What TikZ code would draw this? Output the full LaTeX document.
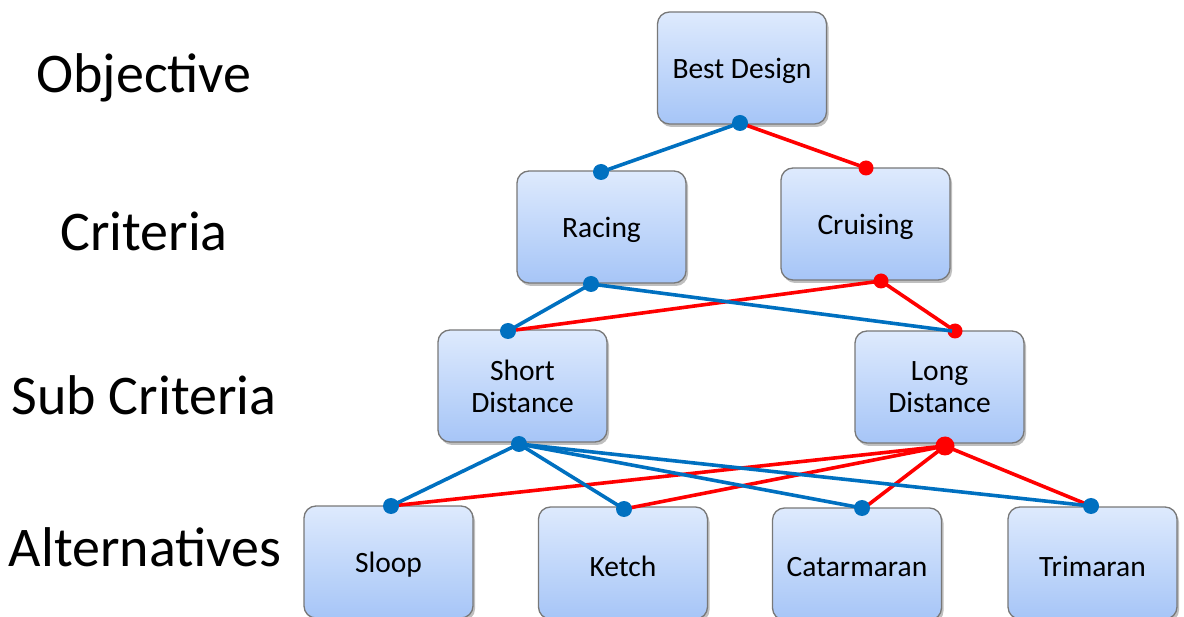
\documentclass[tikz,border=0pt]{standalone}
\usepackage{fontspec}
\setmainfont{Carlito}
\usetikzlibrary{shadows}
\definecolor{boxtop}{RGB}{222,234,253}
\definecolor{boxbot}{RGB}{166,197,247}
\definecolor{boxline}{RGB}{120,120,120}
\definecolor{lnblue}{RGB}{0,112,192}
\definecolor{lnred}{RGB}{255,0,0}
\newcommand{\lowtxt}[1]{\raisebox{-3pt}[\height][\depth]{#1}}
\tikzset{
  box/.style={draw=boxline, line width=1.3pt, rounded corners=12pt,
    top color=boxtop, bottom color=boxbot,
    minimum width=169pt, minimum height=112pt, align=center,
    font=\fontsize{29.5}{32}\selectfont,
    drop shadow={shadow xshift=2pt, shadow yshift=-3pt, opacity=0.25, fill=black}},
  level/.style={font=\fontsize{56}{60}\selectfont, anchor=base},
  bdot/.style={circle, fill=lnblue, inner sep=0pt, minimum size=16pt},
  rdot/.style={circle, fill=lnred, inner sep=0pt, minimum size=15pt},
  bline/.style={draw=lnblue, line width=3.6pt},
  rline/.style={draw=lnred, line width=3.6pt},
}
\begin{document}
\begin{tikzpicture}[x=1pt, y=-1pt]
\useasboundingbox (0,0) rectangle (1184,617);
\begin{scope}
\clip (0,0) rectangle (1184,617);
% level labels
\node[level] (lobj) at (144,93) {Objective};
\node[level] (lcri) at (144,251) {Criteria};
\node[level] (lsub) at (144,415) {Sub Criteria};
\node[level] (lalt) at (145,566) {Alternatives};
% boxes
\node[box] (bd) at (742,68) {\lowtxt{Best Design}};
\node[box] (rac) at (601.5,227) {\lowtxt{Racing}};
\node[box] (cru) at (865.5,224) {\lowtxt{Cruising}};
\node[box] (sd) at (522.5,386) {Short\\Distance};
\node[box] (ld) at (939.5,387) {Long\\Distance};
\node[box] (sl) at (388.5,562) {\lowtxt{Sloop}};
\node[box] (ke) at (623,563) {\lowtxt{Ketch}};
\node[box] (ca) at (857,564) {\lowtxt{Catarmaran}};
\node[box] (tr) at (1092.5,563) {\lowtxt{Trimaran}};
% dot positions
\coordinate (bdB) at (740,123);
\coordinate (racT) at (601,172);
\coordinate (racB) at (591,284);
\coordinate (cruT) at (866,168);
\coordinate (cruB) at (881,281);
\coordinate (sdT) at (508,331);
\coordinate (sdB) at (519,444);
\coordinate (ldT) at (955,331);
\coordinate (ldB) at (945,446);
\coordinate (slT) at (391,506);
\coordinate (keT) at (624,509);
\coordinate (caT) at (862,508);
\coordinate (trT) at (1091,506);
% red connectors
\draw[rline] (bdB) -- (cruT);
\draw[rline] (cruB) -- (sdT);
\draw[rline] (cruB) -- (ldT);
\draw[rline] (ldB) -- (slT);
\draw[rline] (ldB) -- (keT);
\draw[rline] (ldB) -- ([xshift=6pt,yshift=3pt]caT);
\draw[rline] (ldB) -- (trT);
% blue connectors
\draw[bline] (bdB) -- (racT);
\draw[bline] (racB) -- (sdT);
\draw[bline] (sdB) -- (slT);
\draw[bline] (sdB) -- (keT);
\draw[bline] (sdB) -- (caT);
\draw[bline] (sdB) -- (trT);
% dots
\node[bdot] (dbdB) at (bdB) {};
\node[bdot] (dracT) at (racT) {};
\node[bdot] (dracB) at (racB) {};
\node[rdot] (dcruT) at (cruT) {};
\node[rdot] (dcruB) at (cruB) {};
\node[bdot] (dsdT) at (sdT) {};
\node[bdot] (dsdB) at (sdB) {};
\node[rdot] (dldT) at (ldT) {};
\draw[bline] (racB) -- ([xshift=-3pt]ldT);
\node[rdot, minimum size=19pt] (dldB) at (ldB) {};
\node[bdot] (dslT) at (slT) {};
\node[bdot] (dkeT) at (keT) {};
\node[bdot] (dcaT) at (caT) {};
\node[bdot] (dtrT) at (trT) {};
\end{scope}
\end{tikzpicture}
\end{document}
